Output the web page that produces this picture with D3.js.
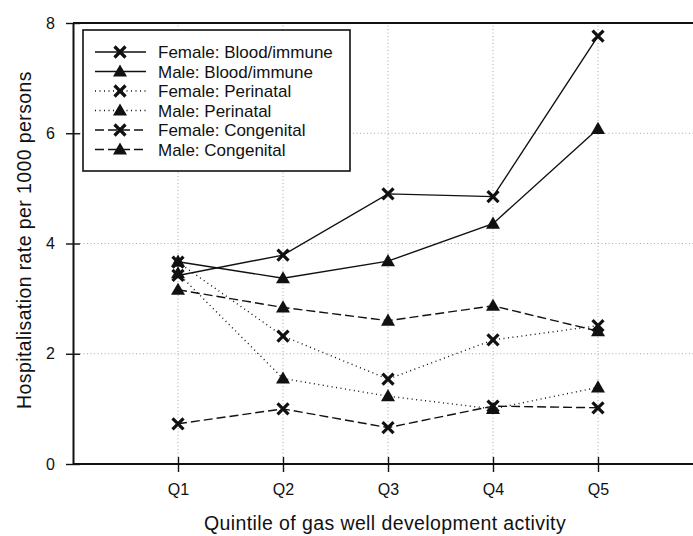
<!DOCTYPE html>
<html><head><meta charset="utf-8">
<script src="https://cdn.jsdelivr.net/npm/d3@7"></script>
<style>body{margin:0;background:#fff}svg{display:block}text{font-family:"Liberation Sans",Arial,sans-serif;fill:#111}</style>
</head><body>
<svg id="c" width="693" height="536"></svg>
<script>
const categories = ["Q1","Q2","Q3","Q4","Q5"];
const femaleBlood = [3.42, 3.79, 4.90, 4.85, 7.76];
const maleBlood = [3.67, 3.37, 3.68, 4.36, 6.08];
const femalePerinatal = [3.66, 2.32, 1.54, 2.25, 2.51];
const malePerinatal = [3.46, 1.55, 1.23, 1.00, 1.39];
const femaleCongenital = [0.73, 1.00, 0.66, 1.05, 1.02];
const maleCongenital = [3.16, 2.84, 2.60, 2.87, 2.41];
const yTicks = [0, 2, 4, 6, 8];
const seriesNames = ["Female: Blood/immune","Male: Blood/immune","Female: Perinatal","Male: Perinatal","Female: Congenital","Male: Congenital"];

const series = [
  {name: seriesNames[0], values: femaleBlood, marker: "x", dash: null},
  {name: seriesNames[1], values: maleBlood, marker: "tri", dash: null},
  {name: seriesNames[2], values: femalePerinatal, marker: "x", dash: "1,3.5"},
  {name: seriesNames[3], values: malePerinatal, marker: "tri", dash: "1,3.5"},
  {name: seriesNames[4], values: femaleCongenital, marker: "x", dash: "9,4"},
  {name: seriesNames[5], values: maleCongenital, marker: "tri", dash: "9,4"}
];

const svg = d3.select("#c");
const x = d3.scaleLinear().domain([0, 6]).range([73, 703]);
const y = d3.scaleLinear().domain([0, 8]).range([464, 23]);
const xPos = i => x(i + 1);

// gridlines
const grid = svg.append("g").attr("stroke", "#aaa").attr("stroke-width", 1).attr("stroke-dasharray", "1,2.5");
grid.selectAll("line.h").data(yTicks.filter(t => t > 0 && t < 8)).join("line")
  .attr("x1", x(0)).attr("x2", 693).attr("y1", d => y(d)).attr("y2", d => y(d));
grid.selectAll("line.v").data(categories).join("line")
  .attr("x1", (d, i) => xPos(i)).attr("x2", (d, i) => xPos(i)).attr("y1", y(0)).attr("y2", y(8));

// top frame line
svg.append("line").attr("x1", x(0)).attr("x2", 693).attr("y1", y(8)).attr("y2", y(8))
  .attr("stroke", "#111").attr("stroke-width", 2);

// axes
const yAxis = d3.axisLeft(y).tickValues(yTicks).tickSizeInner(7).tickSizeOuter(0).tickPadding(11);
const gy = svg.append("g").attr("transform", `translate(${x(0)},0)`).call(yAxis);
gy.selectAll(".tick line").attr("x2", 7).attr("x1", -7).attr("stroke", "#111").attr("stroke-width", 1.4);
gy.select(".domain").attr("stroke", "#111").attr("stroke-width", 2);
gy.selectAll("text").attr("font-size", 16).attr("fill", "#111");

const xAxis = d3.axisBottom(d3.scalePoint().domain(categories).range([xPos(0), xPos(4)]))
  .tickSizeInner(7).tickSizeOuter(0).tickPadding(13);
const gx = svg.append("g").attr("transform", `translate(0,${y(0)})`).call(xAxis);
gx.selectAll(".tick line").attr("y1", -7).attr("y2", 8).attr("stroke", "#111").attr("stroke-width", 1.4);
gx.select(".domain").attr("d", `M${x(0)},0H693`).attr("stroke", "#111").attr("stroke-width", 2);
gx.selectAll("text").attr("font-size", 16).attr("fill", "#111");

// axis titles
svg.append("text").attr("x", 385).attr("y", 530).attr("text-anchor", "middle").attr("font-size", 19.5)
  .attr("letter-spacing", 0.4).text("Quintile of gas well development activity");
svg.append("text").attr("transform", `translate(31,${240}) rotate(-90)`).attr("text-anchor", "middle")
  .attr("font-size", 19.5).attr("letter-spacing", 0.4).text("Hospitalisation rate per 1000 persons");

// markers
function drawMarker(g, kind, cx, cy) {
  if (kind === "x") {
    const s = 5.5;
    g.append("path").attr("d", `M${cx - s},${cy - s}L${cx + s},${cy + s}M${cx - s},${cy + s}L${cx + s},${cy - s}`)
      .attr("stroke", "#111").attr("stroke-width", 3.2).attr("fill", "none");
  } else {
    g.append("path").attr("d", d3.symbol(d3.symbolTriangle, 85)())
      .attr("transform", `translate(${cx},${cy + 1})`).attr("fill", "#111");
  }
}

const line = d3.line().x((d, i) => xPos(i)).y(d => y(d));
const plot = svg.append("g");
series.forEach(s => {
  plot.append("path").attr("d", line(s.values)).attr("fill", "none").attr("stroke", "#111")
    .attr("stroke-width", 1.4).attr("stroke-dasharray", s.dash);
});
series.forEach(s => {
  const g = plot.append("g");
  s.values.forEach((v, i) => drawMarker(g, s.marker, xPos(i), y(v)));
});

// legend
const lg = svg.append("g");
lg.append("rect").attr("x", 83).attr("y", 30).attr("width", 267).attr("height", 141)
  .attr("fill", "#fff").attr("stroke", "#111").attr("stroke-width", 1.6);
series.forEach((s, i) => {
  const ly = 52 + i * 19.5;
  lg.append("line").attr("x1", 95).attr("x2", 146).attr("y1", ly).attr("y2", ly)
    .attr("stroke", "#111").attr("stroke-width", 1.4).attr("stroke-dasharray", s.dash);
  drawMarker(lg, s.marker, 120, ly);
  lg.append("text").attr("x", 158).attr("y", ly + 6).attr("font-size", 17).text(s.name);
});
</script>
</body></html>
